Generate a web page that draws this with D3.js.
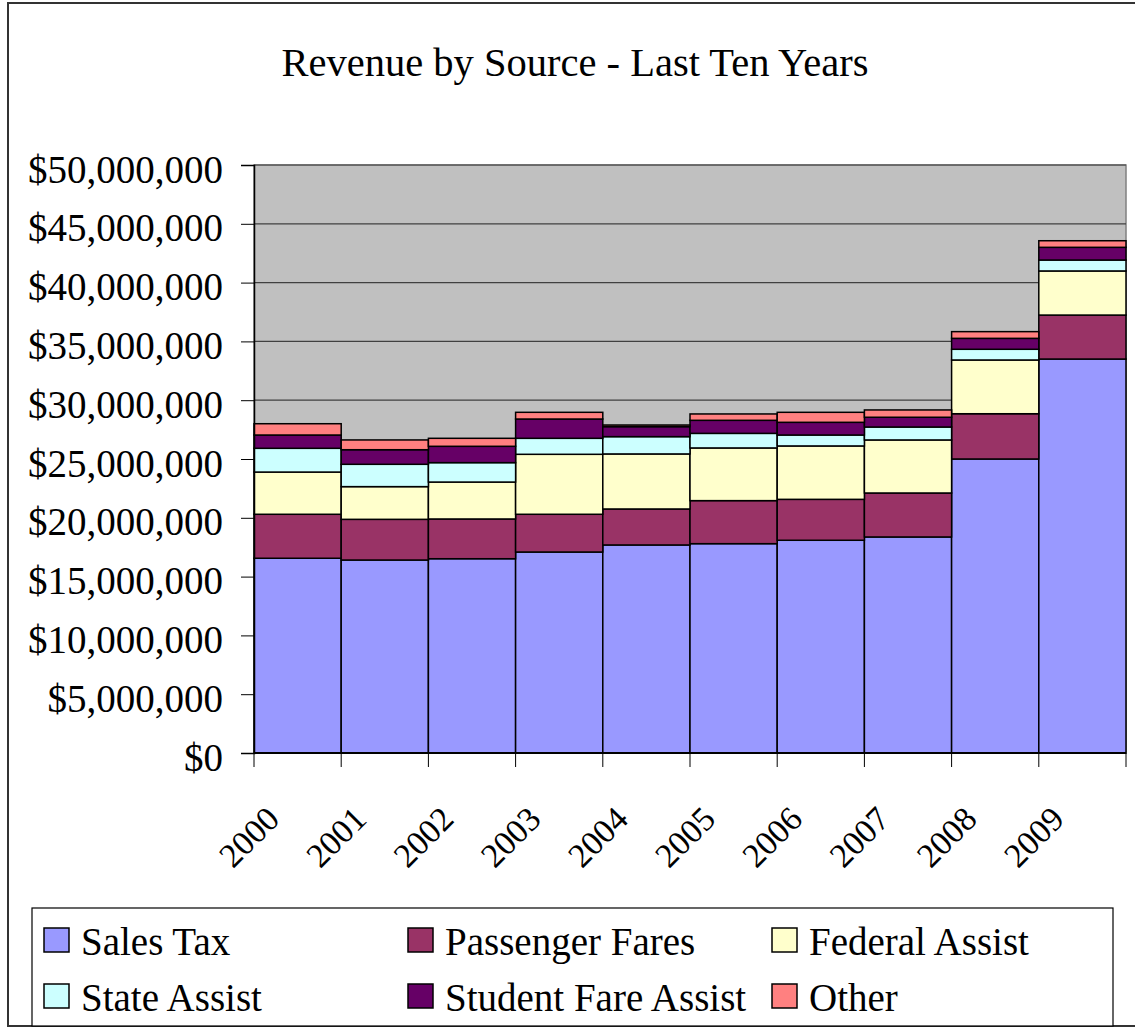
<!DOCTYPE html>
<html>
<head>
<meta charset="utf-8">
<script src="https://d3js.org/d3.v7.min.js"></script>
<style>
  body { margin: 0; background: #fff; }
  svg text { font-family: "Liberation Serif", "Times New Roman", serif; fill: #000; }
</style>
</head>
<body>
<div id="chart"></div>
<script>
// dados (em milhoes de dolares)
var anos = ["2000","2001","2002","2003","2004","2005","2006","2007","2008","2009"];
var salesTax     = [16.56, 16.41, 16.52, 17.09, 17.69, 17.80, 18.09, 18.37, 25.00, 33.50];
var passenger    = [3.74, 3.46, 3.38, 3.21, 3.06, 3.66, 3.48, 3.74, 3.85, 3.74];
var federal      = [3.59, 2.78, 3.14, 5.10, 4.68, 4.48, 4.54, 4.51, 4.57, 3.75];
var stateAssist  = [2.02, 1.90, 1.65, 1.36, 1.47, 1.24, 0.93, 1.10, 0.91, 0.93];
var student      = [1.13, 1.24, 1.39, 1.64, 0.85, 1.11, 1.08, 0.83, 0.93, 1.08];
var other        = [0.96, 0.83, 0.68, 0.57, 0.14, 0.54, 0.85, 0.62, 0.57, 0.56];
var series = ["Sales Tax", "Passenger Fares", "Federal Assist", "State Assist", "Student Fare Assist", "Other"];
var cores  = ["#9999ff", "#993366", "#ffffcc", "#ccffff", "#660066", "#ff8080"];
var yTicks = [0, 5, 10, 15, 20, 25, 30, 35, 40, 45, 50];

var fonte = "'Liberation Serif', 'Times New Roman', Times, serif";
var W = 1135, H = 1029;
var margin = {top: 165, left: 254, right: 9, bottom: 276};
var plotW = W - margin.left - margin.right, plotH = H - margin.top - margin.bottom;

var svg = d3.select("#chart").append("svg").attr("width", W).attr("height", H);

// borda externa
svg.append("rect").attr("x", 8).attr("y", 3).attr("width", 1140).attr("height", 1023)
  .attr("fill", "none").attr("stroke", "#333").attr("stroke-width", 2);

svg.append("text").attr("x", 575).attr("y", 76).attr("text-anchor", "middle")
  .style("font-family", fonte).style("font-size", "40.5px")
  .text("Revenue by Source - Last Ten Years");

var tabela = anos.map(function(a, i) {
  return {ano: a, "Sales Tax": salesTax[i], "Passenger Fares": passenger[i], "Federal Assist": federal[i],
          "State Assist": stateAssist[i], "Student Fare Assist": student[i], "Other": other[i]};
});
var pilha = d3.stack().keys(series)(tabela);

var x = d3.scaleBand().domain(anos).range([0, plotW]).padding(0);
var y = d3.scaleLinear().domain([0, 50]).range([plotH, 0]);
var cor = d3.scaleOrdinal().domain(series).range(cores);

var g = svg.append("g").attr("transform", "translate(" + margin.left + "," + margin.top + ")");

g.append("rect").attr("width", plotW).attr("height", plotH).attr("fill", "#c0c0c0")
  .attr("stroke", "#808080").attr("stroke-width", 1.5);

g.selectAll(".grid").data(yTicks.slice(1)).enter().append("line")
  .attr("x1", 0).attr("x2", plotW).attr("y1", d => y(d)).attr("y2", d => y(d))
  .attr("stroke", "#404040").attr("stroke-width", 1.2);

g.selectAll(".serie").data(pilha).enter().append("g")
  .attr("fill", d => cor(d.key))
  .selectAll("rect").data(d => d).enter().append("rect")
    .attr("x", d => x(d.data.ano))
    .attr("width", x.bandwidth())
    .attr("y", d => y(d[1]))
    .attr("height", d => y(d[0]) - y(d[1]))
    .attr("stroke", "#000").attr("stroke-width", 1.5);

// eixo y
var eixoY = g.append("g").call(d3.axisLeft(y).tickValues(yTicks).tickSize(13).tickPadding(18)
  .tickFormat(d => "$" + d3.format(",")(d * 1000000)));
eixoY.select(".domain").attr("stroke", "#000").attr("stroke-width", 1.5);
eixoY.selectAll("line").attr("stroke", "#000");
eixoY.selectAll("text").style("font-family", fonte).style("font-size", "39px").attr("dy", "17px");

// eixo x com ticks nas bordas das categorias
var bordas = anos.map(a => x(a)).concat([plotW]);
g.append("line").attr("x1", 0).attr("x2", plotW).attr("y1", plotH).attr("y2", plotH)
  .attr("stroke", "#000").attr("stroke-width", 2);
g.selectAll(".xtick").data(bordas).enter().append("line")
  .attr("x1", d => d).attr("x2", d => d).attr("y1", plotH).attr("y2", plotH + 14)
  .attr("stroke", "#000");
g.selectAll(".xlabel").data(anos).enter().append("text")
  .attr("transform", d => "translate(" + (x(d) - 5) + "," + (plotH + 84) + ") rotate(-45)")
  .attr("text-anchor", "middle").attr("dominant-baseline", "central")
  .style("font-family", fonte).style("font-size", "34px").text(d => d);

// legenda
var leg = svg.append("g");
leg.append("rect").attr("x", 32).attr("y", 908).attr("width", 1081).attr("height", 118)
  .attr("fill", "#fff").attr("stroke", "#000").attr("stroke-width", 1.2);
var colX = [44, 408, 772], rowY = [928, 984];
series.forEach(function(s, i) {
  var cx = colX[i % 3], cy = rowY[Math.floor(i / 3)];
  leg.append("rect").attr("x", cx).attr("y", cy).attr("width", 25).attr("height", 24)
    .attr("fill", cor(s)).attr("stroke", "#000").attr("stroke-width", 1.5);
  leg.append("text").attr("x", cx + 37).attr("y", cy + 27)
    .style("font-family", fonte).style("font-size", "39px").text(s);
});
</script>
</body>
</html>
